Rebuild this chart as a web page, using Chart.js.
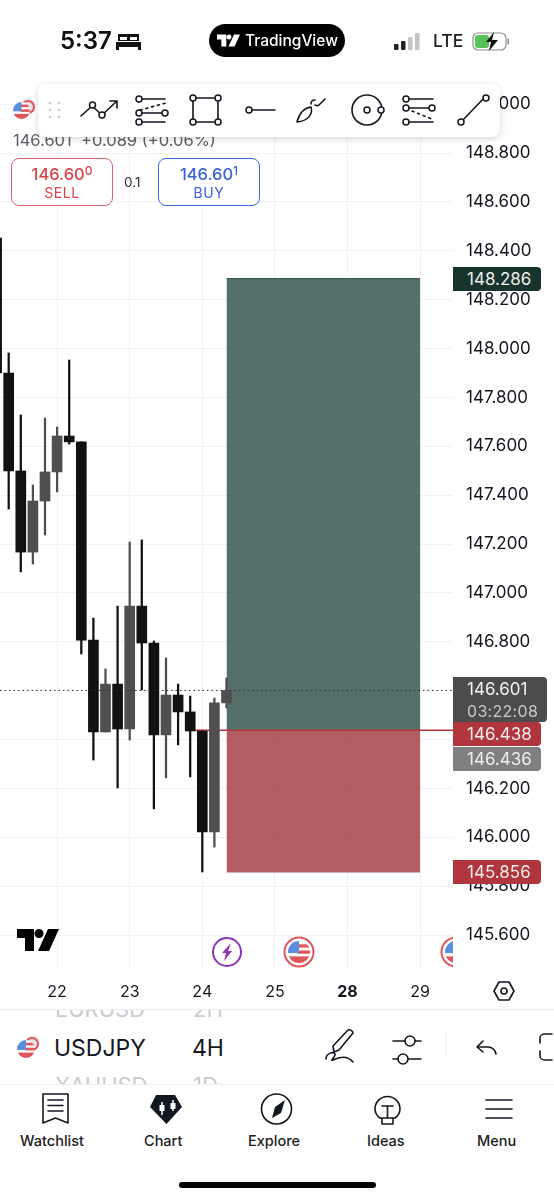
<!DOCTYPE html>
<html>
<head>
<meta charset="utf-8">
<title>USDJPY 4H</title>
<script src="https://cdn.jsdelivr.net/npm/chart.js@4"></script>
<style>
  html, body { margin: 0; padding: 0; background: #fff; }
  body { width: 554px; height: 1200px; position: relative; overflow: hidden; font-family: Inter, "Noto Sans", sans-serif; color: #131722; }
  #plot { position: absolute; left: 0; top: 0; width: 554px; height: 1009px; }
  .abs { position: absolute; white-space: nowrap; }
  svg.abs { overflow: visible; }
  .ln { fill: none; stroke: #131722; stroke-width: 1.6; stroke-linecap: round; stroke-linejoin: round; }
  .nd { fill: #fff; stroke: #131722; stroke-width: 1.5; }

  .time { left: 60px; top: 26px; font-size: 24px; font-weight: 600; color: #111; line-height: 30px; }
  .pill { left: 209px; top: 24px; width: 136px; height: 33px; border-radius: 17px; background: #000; }
  .pill span { position: absolute; left: 36px; top: 0; line-height: 33px; color: #fff; font-size: 15.5px; font-weight: 500; }
  .lte { left: 433px; top: 29px; font-size: 17.5px; font-weight: 500; line-height: 24px; color: #222; }

  .toolbar { left: 38px; top: 84px; width: 462px; height: 53px; background: #fff; border-radius: 8px; box-shadow: 0 2px 7px rgba(0,0,0,.16); }
  .quote { left: 13px; top: 130px; font-size: 16.5px; line-height: 20px; color: #5d5f66; }
  .btn { top: 158px; height: 46px; width: 100px; border-radius: 8px; border: 1.3px solid; background: #fff; text-align: center; }
  .btn b { display: block; font-weight: 500; font-size: 16.5px; line-height: 18px; margin-top: 6px; }
  .btn b sup { font-size: 12px; line-height: 0; vertical-align: 5px; }
  .btn i { display: block; font-style: normal; font-size: 14px; line-height: 16px; margin-top: 2px; letter-spacing: .6px; }
  .sell { left: 11px; border-color: #d9636b; color: #d8434c; }
  .buy { left: 158px; border-color: #3f68e0; color: #3a62dc; }
  .lot { left: 124px; top: 173px; font-size: 13.5px; line-height: 18px; color: #333; }

  .tag { position: absolute; left: 453px; width: 88px; height: 24px; line-height: 24px; border-radius: 0 4px 4px 0; color: #eee; font-size: 17px; padding-left: 14px; box-sizing: border-box; }
  .tag.now { width: 94px; height: 45px; line-height: 22px; background: #4c4c4c; color: #f2f2f2; padding-top: 1px; }
  .tag.now small { display: block; font-size: 16px; color: #c9c9c9; letter-spacing: .3px; }

  .row { left: 0; top: 1009px; width: 554px; height: 74px; border-top: 1px solid #eceef0; border-bottom: 1px solid #eceef0; overflow: hidden; }
  .row div { position: absolute; white-space: nowrap; }
  .dim { color: #c9cbd0; font-size: 22px; line-height: 26px; }
  .pair { font-size: 23px; line-height: 28px; color: #131722; }
  .navlbl { top: 1132px; font-size: 14.5px; font-weight: 500; line-height: 18px; color: #1b1d22; }
  .home { left: 179px; top: 1182px; width: 197px; height: 6px; border-radius: 3px; background: #000; }
</style>
</head>
<body>
<div id="plot"><canvas id="chart" width="554" height="1009"></canvas></div>

<svg width="0" height="0" style="position:absolute">
  <defs>
    <clipPath id="flagClip"><circle cx="0" cy="0" r="10"/></clipPath>
    <symbol id="flag" viewBox="-10 -10 20 20">
      <g clip-path="url(#flagClip)">
        <rect x="-10" y="-10" width="20" height="20" fill="#fff"/>
        <rect x="-1" y="-7" width="11" height="3" fill="#e0555c"/>
        <rect x="-1" y="-1.4" width="11" height="3" fill="#e0555c"/>
        <rect x="-10" y="4" width="20" height="6" fill="#e0555c"/>
        <rect x="-10" y="-10" width="10" height="11" fill="#5a8fe0"/>
      </g>
    </symbol>
    <symbol id="tvlogo" viewBox="0 0 42 22">
      <path d="M0 0h17v22H8V9H0zM22 0a4.500 4.500 0 1 0 .01 0zM31 0h11l-10 22H21z" fill="currentColor"/>
    </symbol>
  </defs>
</svg>

<!-- status bar -->
<div class="abs time">5:37</div>
<svg class="abs" style="left:116px;top:33px" width="25" height="17" viewBox="0 0 25 17">
  <path d="M2 1h21v7H2zM0 9h25v5H0zM0 14h3v3H0zM22 14h3v3h-3z" fill="#111"/>
  <path d="M4 4h7v3H4zM14 4h7v3h-7z" fill="#fff"/>
</svg>
<div class="abs pill">
  <svg class="abs" style="left:8px;top:10px;color:#fff" width="23" height="13"><use href="#tvlogo" width="23" height="13"/></svg>
  <span>TradingView</span>
</div>
<svg class="abs" style="left:394px;top:33px" width="27" height="17" viewBox="0 0 27 17">
  <rect x="0" y="11" width="4.500" height="6" rx="1" fill="#222"/>
  <rect x="7" y="8" width="4.500" height="9" rx="1" fill="#222"/>
  <rect x="14" y="4" width="4.500" height="13" rx="1" fill="#c4c4c6"/>
  <rect x="21" y="0" width="4.500" height="17" rx="1" fill="#c4c4c6"/>
</svg>
<div class="abs lte">LTE</div>
<svg class="abs" style="left:472px;top:32px" width="38" height="19" viewBox="0 0 38 19">
  <rect x="1" y="1" width="33" height="17" rx="5" fill="#fff" stroke="#8e8e90" stroke-width="1.200"/>
  <rect x="3" y="3" width="14" height="13" rx="3" fill="#58c25a"/>
  <path d="M22 0l-8 10h5l-2 9 9-11h-6z" fill="#111"/>
  <rect x="35.500" y="6.500" width="1.500" height="6" rx=".7" fill="#8e8e90"/>
</svg>

<!-- symbol header behind the toolbar -->
<svg class="abs" style="left:12px;top:99px" width="24" height="24"><circle cx="16" cy="6" r="7" fill="#e4e5e8"/><circle cx="16" cy="8" r="6" fill="none" stroke="#e0555c" stroke-width="2"/><use href="#flag" x="1" y="3" width="17" height="17"/></svg>
<div class="abs quote">146.601 &nbsp;+0.089 (+0.06%)</div>
<div class="abs btn sell"><b>146.60<sup>0</sup></b><i>SELL</i></div>
<div class="abs lot">0.1</div>
<div class="abs btn buy"><b>146.60<sup>1</sup></b><i>BUY</i></div>

<!-- drawing toolbar -->
<div class="abs toolbar"></div>
<svg class="abs" style="left:0;top:0" width="554" height="140" viewBox="0 0 554 140">
  <g fill="#c6c8cc"><circle cx="50" cy="103" r="1.300"/><circle cx="59" cy="103" r="1.300"/><circle cx="50" cy="110" r="1.300"/><circle cx="59" cy="110" r="1.300"/><circle cx="50" cy="117" r="1.300"/><circle cx="59" cy="117" r="1.300"/></g>
  <path class="ln" d="M81 116l11-10 10 9 15-14M110 101h7v7"/><circle class="nd" cx="92.500" cy="105" r="3"/><circle class="nd" cx="102" cy="115" r="3"/>
  <path class="ln" d="M139 99h26M139 113h24M139 122h26"/><path class="ln" d="M140 110l26-7" stroke-dasharray="2 4"/><circle class="nd" cx="139" cy="99" r="3"/><circle class="nd" cx="139" cy="113" r="3"/><circle class="nd" cx="165" cy="113" r="3"/><circle class="nd" cx="139" cy="122" r="3"/>
  <rect class="ln" x="193" y="98" width="25" height="24"/><circle class="nd" cx="193" cy="98" r="3"/><circle class="nd" cx="218" cy="98" r="3"/><circle class="nd" cx="193" cy="122" r="3"/><circle class="nd" cx="218" cy="122" r="3"/>
  <path class="ln" d="M248 110h27"/><circle class="nd" cx="249" cy="110" r="3"/>
  <path class="ln" d="M297 122c2-8 7-14 14-15 2 6-2 14-14 15zM311 104c0-3 2-4 4-4M315 105c2 1 3 1 4 0l6-6"/>
  <circle class="ln" cx="367" cy="110" r="15"/><circle class="nd" cx="367" cy="110" r="3"/><circle class="nd" cx="381" cy="110" r="3"/>
  <path class="ln" d="M406 99h27M406 108h26M406 122h27"/><path class="ln" d="M412 111l22 9" stroke-dasharray="2 4"/><circle class="nd" cx="406" cy="99" r="3"/><circle class="nd" cx="406" cy="108" r="3"/><circle class="nd" cx="432" cy="108" r="3"/><circle class="nd" cx="406" cy="122" r="3"/>
  <path class="ln" d="M461 122l24-25"/><circle class="nd" cx="461" cy="122" r="3"/><circle class="nd" cx="486" cy="98" r="3"/>
</svg>

<!-- chart overlays -->
<svg class="abs" style="left:17px;top:929px;color:#000" width="42" height="22"><use href="#tvlogo" width="42" height="22"/></svg>
<svg class="abs" style="left:0;top:930px;overflow:hidden" width="453" height="45" viewBox="0 0 453 45">
  <circle cx="227" cy="22" r="14" fill="#fff" stroke="#8e35b5" stroke-width="2"/>
  <path d="M231 13l-9 10h4l-2 8 8-10h-4z" fill="#8e35b5"/>
  <circle cx="299" cy="22" r="14.500" fill="#fff" stroke="#e0555c" stroke-width="2"/><use href="#flag" x="288" y="11" width="22" height="22"/>
  <circle cx="456" cy="22" r="14.500" fill="#fff" stroke="#e0555c" stroke-width="2"/><use href="#flag" x="445" y="11" width="22" height="22"/>
</svg>
<svg class="abs" style="left:493px;top:980px" width="22" height="22" viewBox="0 0 22 22"><path class="ln" d="M6 2h10l5 9-5 9H6l-5-9z"/><circle class="ln" cx="11" cy="11" r="3"/></svg>

<!-- symbol row -->
<div class="abs row">
  <div class="dim" style="left:55px;top:-14px">EURUSD</div>
  <div class="dim" style="left:193px;top:-14px">2H</div>
  <div class="pair" style="left:54px;top:24px">USDJPY</div>
  <div class="pair" style="left:192px;top:24px">4H</div>
  <div class="dim" style="left:55px;top:62px">XAUUSD</div>
  <div class="dim" style="left:193px;top:62px">1D</div>
</div>
<svg class="abs" style="left:16px;top:1034px" width="26" height="26"><circle cx="17" cy="8" r="7" fill="#e4e5e8"/><circle cx="16" cy="10" r="6" fill="none" stroke="#e0555c" stroke-width="2"/><use href="#flag" x="1" y="6" width="18" height="18"/></svg>
<svg class="abs" style="left:0;top:1025px" width="554" height="42" viewBox="0 0 554 42">
  <path class="ln" d="M333 21L348 5c2-1 5 1 5 3L339 25l-5 2zM326 34c0-6 8-8 9-5 1 3-6 7-2 6 6-3 14-5 20 2"/>
  <path class="ln" d="M393 16h12M415 16h6M393 34h5M408 34h13"/><circle class="ln" cx="410" cy="16" r="5"/><circle class="ln" cx="403" cy="34" r="5"/>
  <path d="M446 8v25" stroke="#eceef0"/>
  <path class="ln" d="M483 16l-6 6 6 5M477 22h11c5 0 7 3 8 7"/>
  <path class="ln" d="M552 9h-7c-3 0-5 2-5 4v5M552 35h-7c-3 0-5-2-5-4v-5"/>
</svg>

<!-- bottom nav -->
<svg class="abs" style="left:0;top:1090px" width="554" height="40" viewBox="0 0 554 40">
  <path class="ln" stroke-width="1.800" d="M43 4h25v29l-12.500-5L43 33zM48 10h15M48 15.500h15M48 21h15"/>
  <path d="M156 5h19l7 12-15.500 17L150 17z" fill="#131722"/>
  <path d="M162 12v13M173 10v11" stroke="#fff" stroke-width="1.500"/><rect x="159.500" y="15" width="5" height="6" fill="#fff"/><rect x="170.500" y="13" width="5" height="6" fill="#fff"/>
  <circle class="ln" stroke-width="1.800" cx="276.500" cy="19" r="15"/><path d="M285 10l-4 13-9 5 3-11z" fill="#131722"/>
  <path class="ln" stroke-width="1.800" d="M380 28c-4-3-5-6-5-9a12.500 12.500 0 0 1 25 0c0 3-1 6-5 9zM382 16h11M387.500 16v12M382 28v6h11v-6"/>
  <path class="ln" stroke-width="2" d="M486 10h26M486 19h26M486 28h26"/>
</svg>
<div class="abs navlbl" style="left:20px">Watchlist</div>
<div class="abs navlbl" style="left:144px">Chart</div>
<div class="abs navlbl" style="left:248px">Explore</div>
<div class="abs navlbl" style="left:367px">Ideas</div>
<div class="abs navlbl" style="left:477px">Menu</div>
<div class="abs home"></div>

<script>
const $ = (id) => document.getElementById(id);

// 4H candles. Position 0 is the clipped one at the left edge.
const opens  = [148.452, 147.900, 147.499, 147.167, 147.376, 147.495, 147.642, 147.618, 146.807, 146.431, 146.627, 146.443, 146.946, 146.795, 146.419, 146.582, 146.513, 146.435, 146.022, 146.550];
const highs  = [148.452, 147.982, 147.728, 147.442, 147.716, 147.679, 147.953, 147.618, 146.897, 146.689, 146.946, 147.208, 147.217, 146.803, 146.734, 146.627, 146.578, 146.435, 146.570, 146.652];
const lows   = [147.900, 147.343, 147.086, 147.118, 147.237, 147.413, 147.609, 146.750, 146.316, 146.431, 146.202, 146.398, 146.603, 146.116, 146.243, 146.378, 146.247, 145.858, 145.960, 146.529];
const closes = [147.900, 147.499, 147.167, 147.376, 147.495, 147.642, 147.618, 146.807, 146.431, 146.627, 146.443, 146.946, 146.795, 146.419, 146.582, 146.513, 146.435, 146.022, 146.550, 146.601];

const dayTicks = [5, 11, 17, 23, 29, 35];
const dayLabels = ["22", "23", "24", "25", "28", "29"];
const boldDay = "28";

const lastPrice = 146.601;
const lastCountdown = "03:22:08";
const bidPrice = 146.436;
const targetPrice = 148.286;
const entryPrice = 146.438;
const stopPrice = 145.856;
const toolFrom = 19;
const toolTo = 35;
const entryLineFrom = 16.4;

const xMin = 0.281;
const xMax = 37.72;
const yMin = 145.457;
const yMax = 149.066;

const UP = "#4f4f4f";
const DOWN = "#111111";
const colors = opens.map((o, i) => (closes[i] >= o ? UP : DOWN));
const candle = (a, b) => a.map((v, i) => ({ x: i, y: [v, b[i]] }));
const level = (y, from, to) => [{ x: from, y }, { x: to, y }];

Chart.defaults.font.family = "Inter";

const chart = new Chart($("chart").getContext("2d"), {
  type: "bar",
  data: {
    datasets: [
      {
        type: "line",
        data: level(targetPrice, toolFrom, toolTo),
        borderColor: "#2f4d46",
        borderWidth: 1,
        backgroundColor: "rgba(19,56,48,.72)",
        fill: { value: entryPrice },
        pointRadius: 0,
        order: 6,
      },
      {
        type: "line",
        data: level(stopPrice, toolFrom, toolTo),
        borderWidth: 0,
        backgroundColor: "rgba(149,30,38,.72)",
        fill: { value: entryPrice },
        pointRadius: 0,
        order: 5,
      },
      {
        type: "line",
        data: level(entryPrice, entryLineFrom, xMax),
        borderColor: "#b3353d",
        borderWidth: 1.5,
        pointRadius: 0,
        order: 4,
      },
      { data: candle(highs, lows), backgroundColor: colors, barThickness: 1.6, grouped: false, order: 3 },
      { data: candle(opens, closes), backgroundColor: colors, barThickness: 10, grouped: false, order: 2 },
      {
        type: "line",
        data: level(lastPrice, xMin, xMax),
        borderColor: "#333",
        borderWidth: 1,
        borderDash: [1.5, 3],
        pointRadius: 0,
        order: 1,
      },
    ],
  },
  options: {
    responsive: false,
    animation: false,
    events: [],
    layout: { padding: { top: 88 } },
    plugins: { legend: { display: false }, tooltip: { enabled: false } },
    scales: {
      x: {
        type: "linear",
        offset: false,
        min: xMin,
        max: xMax,
        afterBuildTicks: (scale) => { scale.ticks = dayTicks.map((value) => ({ value })); },
        afterFit: (scale) => { scale.height = 39; },
        grid: { color: "#f0f1f3", drawTicks: false, offset: false },
        border: { display: false },
        ticks: {
          callback: (value, i) => dayLabels[i],
          autoSkip: false,
          maxRotation: 0,
          padding: 13,
          color: "#131722",
          font: (ctx) => ({ size: 16, weight: ctx.tick && ctx.tick.label === boldDay ? "700" : "400" }),
        },
      },
      y: {
        position: "right",
        min: yMin,
        max: yMax,
        afterFit: (scale) => { scale.width = 101; },
        grid: { color: "#f0f1f3", drawTicks: false },
        border: { display: false },
        ticks: {
          stepSize: 0.2,
          includeBounds: false,
          autoSkip: false,
          padding: 13,
          color: "#131722",
          font: { size: 17 },
          callback: (v) => v.toFixed(3),
        },
      },
    },
  },
});

// price tags sit on the axis, placed from the chart's own y scale
function addTag(value, background, shift = 0, extra = "") {
  const el = document.createElement("div");
  el.className = "tag" + (extra ? " now" : "");
  el.innerHTML = value.toFixed(3) + (extra ? `<small>${extra}</small>` : "");
  const height = extra ? 45 : 24;
  el.style.top = chart.scales.y.getPixelForValue(value) - (extra ? 13 : height / 2) + shift + "px";
  if (background) el.style.background = background;
  document.body.appendChild(el);
}

addTag(targetPrice, "#17332c");
addTag(lastPrice, "", 0, lastCountdown);
addTag(bidPrice, "#808080", 28);
addTag(entryPrice, "#b0353c", 4);
addTag(stopPrice, "#b0353c");
</script>
</body>
</html>
